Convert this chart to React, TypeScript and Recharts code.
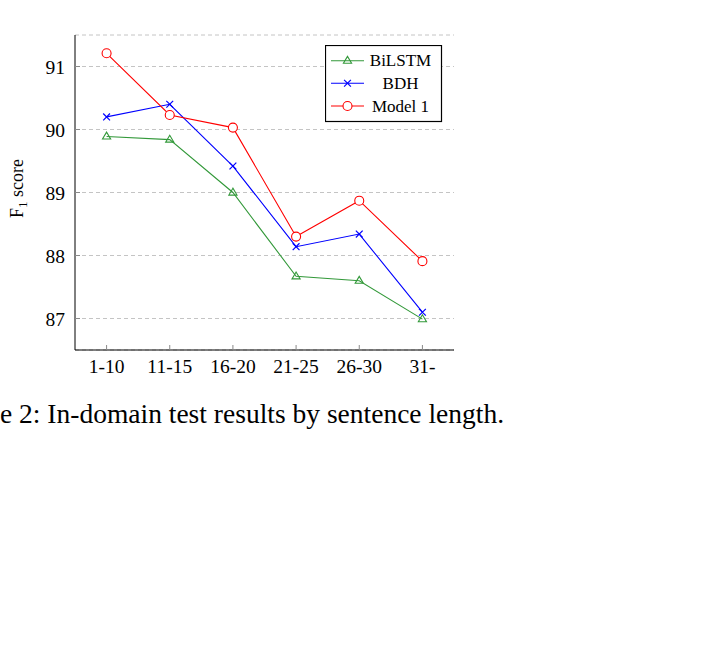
import React from "react";
import {
  LineChart, Line, XAxis, YAxis, CartesianGrid, Legend,
} from "recharts";

// sentence length buckets
const LENGTHS = ["1-10", "11-15", "16-20", "21-25", "26-30", "31-"];
const BILSTM = [89.89, 89.84, 89.0, 87.67, 87.6, 86.99];
const BDH = [90.2, 90.4, 89.42, 88.14, 88.34, 87.1];
const MODEL1 = [91.21, 90.23, 90.03, 88.3, 88.87, 87.91];
const Y_TICKS = [87, 88, 89, 90, 91];

const SERIES = [
  { key: "bilstm", name: "BiLSTM", color: "#33993a", mark: "triangle" },
  { key: "bdh", name: "BDH", color: "#0000ff", mark: "cross" },
  { key: "model1", name: "Model 1", color: "#ff0000", mark: "circle" },
];

const rows = LENGTHS.map((label, i) => ({
  idx: i,
  label,
  bilstm: BILSTM[i],
  bdh: BDH[i],
  model1: MODEL1[i],
}));

const FONT = "'Liberation Serif', 'Times New Roman', serif";
const TICK_GRAY = "#8a8a8a";

function Marker({ cx, cy, mark, color }: any) {
  if (cx == null || cy == null) return null;
  if (mark === "triangle") {
    const r = 4.3;
    const pts = `${cx},${cy - r} ${cx - r * 0.95},${cy + r * 0.6} ${cx + r * 0.95},${cy + r * 0.6}`;
    return <polygon points={pts} fill="none" stroke={color} strokeWidth={1.1} />;
  }
  if (mark === "cross") {
    const r = 3.4;
    return (
      <g stroke={color} strokeWidth={1.2}>
        <line x1={cx - r} y1={cy - r} x2={cx + r} y2={cy + r} />
        <line x1={cx - r} y1={cy + r} x2={cx + r} y2={cy - r} />
      </g>
    );
  }
  return <circle cx={cx} cy={cy} r={4.5} fill="#fff" stroke={color} strokeWidth={1.1} />;
}

const makeDot = (mark: string, color: string) => (p: any) => (
  <Marker key={`${mark}-${p.index}`} cx={p.cx} cy={p.cy} mark={mark} color={color} />
);

function BottomTick({ x, y, payload }: any) {
  return (
    <g>
      <line x1={x} y1={y} x2={x} y2={y - 5} stroke={TICK_GRAY} />
      <text x={x} y={y + 23} textAnchor="middle" fontFamily={FONT} fontSize={19.5} fill="#000">
        {LENGTHS[payload.value]}
      </text>
    </g>
  );
}

function TopTick({ x, y }: any) {
  return <line x1={x} y1={y} x2={x} y2={y + 5} stroke={TICK_GRAY} />;
}

function LeftTick({ x, y, payload }: any) {
  return (
    <g>
      <line x1={x} y1={y} x2={x + 5} y2={y} stroke={TICK_GRAY} />
      <text x={x - 10} y={y + 7} textAnchor="end" fontFamily={FONT} fontSize={19.5} fill="#000">
        {payload.value}
      </text>
    </g>
  );
}

function RightTick({ x, y }: any) {
  return <line x1={x} y1={y} x2={x - 5} y2={y} stroke={TICK_GRAY} />;
}

function LegendBox() {
  const rowsY = [15.7, 38.3, 61];
  return (
    <svg width={118} height={78} style={{ display: "block" }}>
      <rect x={0.5} y={0.5} width={116} height={76} fill="#fff" stroke="#000" strokeWidth={1.2} />
      {SERIES.map((s, i) => (
        <g key={s.key}>
          <line x1={6} y1={rowsY[i]} x2={39} y2={rowsY[i]} stroke={s.color} strokeWidth={1.1} />
          <Marker cx={22.5} cy={rowsY[i]} mark={s.mark} color={s.color} />
          <text x={75.5} y={rowsY[i] + 5.5} textAnchor="middle" fontFamily={FONT} fontSize={17} fill="#000">
            {s.name}
          </text>
        </g>
      ))}
    </svg>
  );
}

function YLabel() {
  const bx = 23;
  const cy = 188.5;
  return (
    <text
      x={bx}
      y={cy}
      transform={`rotate(-90 ${bx} ${cy})`}
      textAnchor="middle"
      fontFamily={FONT}
      fontSize={18}
      fill="#000"
    >
      F<tspan fontSize={12.5} dy={4}>1</tspan>
      <tspan dy={-4}> score</tspan>
    </text>
  );
}

export default function App() {
  return (
    <div style={{ position: "absolute", left: 0, top: 0, width: 720, height: 661, background: "#fff" }}>
      <LineChart
        width={720}
        height={661}
        data={rows}
        margin={{ top: 35, right: 266, bottom: 271, left: 15 }}
      >
        <CartesianGrid
          horizontal
          vertical={false}
          stroke="#c4c4c4"
          strokeDasharray="4 3"
          yAxisId="left"
          xAxisId="bottom"
        />
        <XAxis
          xAxisId="bottom"
          dataKey="idx"
          type="number"
          domain={[-0.5, 5.5]}
          ticks={[0, 1, 2, 3, 4, 5]}
          height={40}
          tickSize={0}
          tickMargin={0}
          tickLine={false}
          axisLine={{ stroke: "#000", strokeWidth: 1 }}
          tick={<BottomTick />}
          interval={0}
        />
        <XAxis
          xAxisId="top"
          orientation="top"
          dataKey="idx"
          type="number"
          domain={[-0.5, 5.5]}
          ticks={[0, 1, 2, 3, 4, 5]}
          height={0}
          tickSize={0}
          tickMargin={0}
          tickLine={false}
          axisLine={{ stroke: "#000", strokeWidth: 1 }}
          tick={<TopTick />}
          interval={0}
        />
        <YAxis
          yAxisId="left"
          domain={[86.5, 91.5]}
          ticks={Y_TICKS}
          allowDataOverflow
          width={60}
          tickSize={0}
          tickMargin={0}
          tickLine={false}
          axisLine={{ stroke: "#000", strokeWidth: 1 }}
          tick={<LeftTick />}
          interval={0}
          label={<YLabel />}
        />
        <YAxis
          yAxisId="right"
          orientation="right"
          domain={[86.5, 91.5]}
          ticks={Y_TICKS}
          allowDataOverflow
          width={0}
          tickSize={0}
          tickMargin={0}
          tickLine={false}
          axisLine={{ stroke: "#000", strokeWidth: 1 }}
          tick={<RightTick />}
          interval={0}
        />
        {SERIES.map((s) => (
          <Line
            key={s.key}
            xAxisId="bottom"
            yAxisId="left"
            type="linear"
            dataKey={s.key}
            name={s.name}
            stroke={s.color}
            strokeWidth={1.1}
            dot={makeDot(s.mark, s.color)}
            activeDot={false}
            isAnimationActive={false}
          />
        ))}
        <Legend
          layout="vertical"
          align="center"
          verticalAlign="middle"
          content={<LegendBox />}
          wrapperStyle={{ left: 325, top: 45, width: 118, height: 78 }}
        />
      </LineChart>
      <div
        style={{
          position: "absolute",
          left: 0,
          top: 399,
          fontFamily: FONT,
          fontSize: 27.5,
          lineHeight: "30px",
          whiteSpace: "nowrap",
          color: "#000",
        }}
      >
        e 2: In-domain test results by sentence length.
      </div>
    </div>
  );
}
